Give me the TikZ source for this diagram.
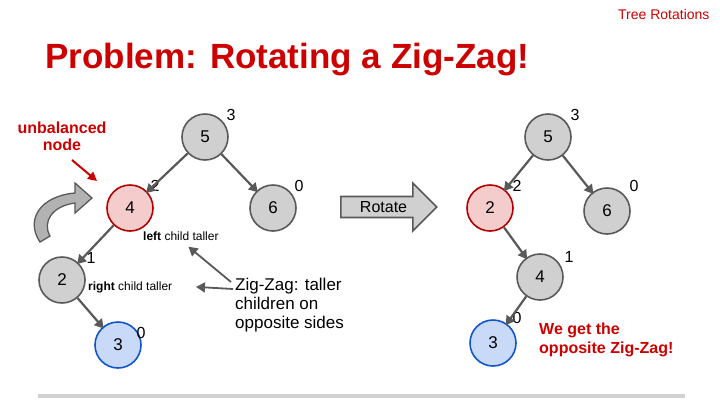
\documentclass[tikz,border=0pt]{standalone}
\usepackage{fontspec}
\setmainfont{Liberation Sans}
\usetikzlibrary{arrows.meta,shapes.arrows}
\definecolor{tred}{HTML}{CC0000}
\definecolor{edge}{HTML}{595959}
\definecolor{gfill}{HTML}{D0D0D0}
\definecolor{rfill}{HTML}{F4CCCC}
\definecolor{rline}{HTML}{B00000}
\definecolor{bfill}{HTML}{C9DAF8}
\definecolor{bline}{HTML}{1155CC}
\begin{document}
\begin{tikzpicture}[x=1pt,y=-1pt,
  tn/.style={circle,draw=edge,line width=1.6pt,fill=gfill,minimum size=46pt,inner sep=0pt,font=\fontsize{17}{17}\selectfont},
  rn/.style={tn,draw=rline,fill=rfill},
  bn/.style={tn,draw=bline,fill=bfill},
  ht/.style={font=\fontsize{16}{16}\selectfont},
  ed/.style={-{Triangle[length=9pt,width=10pt]},draw=edge,line width=2.2pt,shorten >=-2pt},
  note/.style={font=\fontsize{12}{12}\selectfont}]
\useasboundingbox (0,0) rectangle (720,405);
\node[anchor=north east,text=tred,font=\fontsize{14}{14}\selectfont] (hdr) at (713,6) {Tree Rotations};
\node[anchor=base west,text=tred,font=\fontsize{35}{35}\selectfont\bfseries] (title) at (42,68) {Problem: Rotating a Zig-Zag!};
% left tree
\node[tn] (a5) at (205,137) {5};
\node[rn] (a4) at (130,208) {4};
\node[tn] (a6) at (273,208) {6};
\node[tn] (a2) at (62,280) {2};
\node[bn] (a3) at (118,345) {3};
\node[ht] (h5) at (231,115) {3};
\node[ht] (h4) at (155,186) {2};
\node[ht] (h6) at (299,186) {0};
\node[ht] (h2) at (91,258) {1};
\node[ht] (h3) at (141,333) {0};
\draw[ed] (a5) -- (a4);
\draw[ed] (a5) -- (a6);
\draw[ed] (a4) -- (a2);
\draw[ed] (a2) -- (a3);
\node[note,anchor=west,inner sep=0pt] (lt) at (143,236) {\textbf{left} child taller};
\node[note,anchor=west,inner sep=0pt] (rt) at (88,287) {\textbf{right} child taller};
\node[anchor=north west,align=left,font=\fontsize{17}{19}\selectfont,inner sep=0pt] (zz) at (235,278) {Zig-Zag: taller\\children on\\opposite sides};
\coordinate (zza) at (233,289);
\coordinate (zzb) at (231,282);
\draw[ed,line width=1.8pt] (zza) -- (198,287);
\draw[ed,line width=1.8pt] (zzb) -- (190,248);
\node[text=tred,font=\fontsize{16}{17}\selectfont\bfseries,align=center] (ub) at (62,136) {unbalanced\\node};
\coordinate (ubs) at (72,160);
\draw[-{Triangle[length=9pt,width=9pt]},tred,line width=2pt] (ubs) -- (97,181);
% curved arrow
\draw[fill=gray!60,draw=edge,line width=1.3pt]
  (40,242) .. controls (25,220) and (40,196) .. (75,193) -- (75,183) -- (92,198) -- (75,213) -- (75,203)
  .. controls (52,206) and (42,222) .. (50,236) -- cycle;
% rotate arrow
\node[single arrow,draw=edge,fill=gfill,line width=1.6pt,minimum height=96pt,minimum width=48pt,single arrow head extend=12pt,inner sep=3pt,font=\fontsize{16}{16}\selectfont,anchor=west] (rot) at (340,207) {Rotate\hspace{12pt}};
% right tree
\node[tn] (b5) at (548,137) {5};
\node[rn] (b2) at (490,208) {2};
\node[tn] (b6) at (607,211) {6};
\node[tn] (b4) at (540,277) {4};
\node[bn] (b3) at (493,343) {3};
\node[ht] (g5) at (575,115) {3};
\node[ht] (g2) at (517,186) {2};
\node[ht] (g6) at (634,186) {0};
\node[ht] (g4) at (569,257) {1};
\node[ht] (g3) at (517,318) {0};
\draw[ed] (b5) -- (b2);
\draw[ed] (b5) -- (b6);
\draw[ed] (b2) -- (b4);
\draw[ed] (b4) -- (b3);
\node[anchor=north west,text=tred,align=left,font=\fontsize{16}{19}\selectfont\bfseries,inner sep=0pt] (we) at (539,323) {We get the\\opposite Zig-Zag!};
% bottom bar
\fill[gray!35] (38,394) rectangle (685,398);
\end{tikzpicture}
\end{document}
